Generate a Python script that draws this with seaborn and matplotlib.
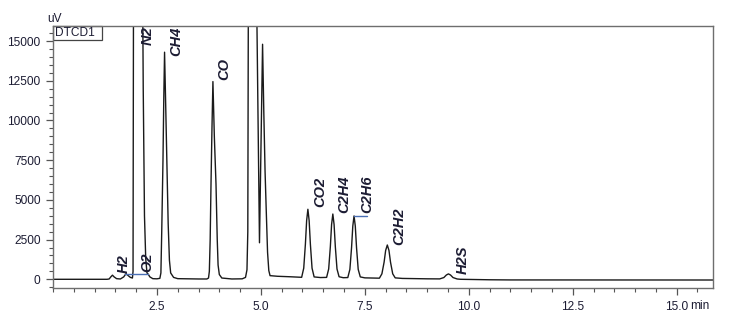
import matplotlib
matplotlib.use("Agg")
import matplotlib.pyplot as plt
import seaborn as sns
import pandas as pd
from matplotlib.ticker import MultipleLocator
from matplotlib.patches import Rectangle

# ---- data ----
time_min = [0.00, 1.30, 1.35, 1.39, 1.43, 1.47, 1.53, 1.62, 1.70, 1.755, 1.80, 1.86, 1.91,
            1.925, 1.935, 1.95, 2.05, 2.14, 2.17, 2.20, 2.23, 2.26, 2.29, 2.33, 2.40, 2.50,
            2.57, 2.595, 2.615, 2.645, 2.665, 2.683, 2.71, 2.74, 2.77, 2.80, 2.83, 2.90, 3.00,
            3.50, 3.70, 3.74, 3.76, 3.78, 3.80, 3.823, 3.846, 3.88, 3.92, 3.95, 3.97, 4.00,
            4.06, 4.30, 4.55, 4.63, 4.665, 4.685, 4.70, 4.75, 4.85, 4.89, 4.966, 5.04, 5.07,
            5.10, 5.13, 5.16, 5.19, 5.22, 5.40, 5.70, 5.98, 6.03, 6.07, 6.10, 6.13, 6.16,
            6.19, 6.23, 6.28, 6.43, 6.58, 6.63, 6.67, 6.70, 6.73, 6.76, 6.79, 6.83, 6.88,
            6.98, 7.09, 7.14, 7.18, 7.21, 7.24, 7.27, 7.30, 7.34, 7.39, 7.50, 7.85, 7.91,
            7.963, 8.00, 8.04, 8.08, 8.117, 8.17, 8.23, 8.40, 9.00, 9.30, 9.40, 9.46, 9.51,
            9.56, 9.62, 9.72, 9.80, 10.50, 11.00, 15.88]
signal_uv = [0, 0, 20, 150, 260, 150, 40, 20, 150, 350, 250, 120, 80,
             500, 16500, 50000, 100000, 25000, 12000, 4000, 1300, 400, 320, 150, 40, 30,
             60, 400, 3000, 7500, 11500, 14300, 11000, 7200, 3500, 1200, 400, 120, 40,
             20, 20, 80, 500, 2500, 6000, 9500, 12450, 9000, 6000, 2500, 900, 300,
             80, 20, 30, 120, 600, 3000, 20000, 70000, 50000, 19400, 2300, 14800, 10500,
             6800, 4200, 1700, 550, 230, 190, 160, 125, 700, 2210, 3700, 4410, 3700,
             2210, 700, 150, 110, 120, 650, 2050, 3450, 4110, 3450, 2050, 650, 160,
             100, 110, 625, 1990, 3350, 3990, 3350, 1990, 625, 150, 90, 70, 345,
             1080, 1815, 2160, 1815, 1080, 345, 90, 55, 30, 25, 110, 270, 340,
             270, 110, 20, 0, -30, -40, -45]

peak_names = ["H2", "O2", "N2", "CH4", "CO", "CO2", "C2H4", "C2H6", "C2H2", "H2S"]
label_time = [1.69, 2.26, 2.29, 2.96, 4.12, 6.42, 7.00, 7.56, 8.33, 9.85]
label_level = [400, 460, 15930, 15900, 12550, 4535, 4195, 4195, 2160, 330]
label_anchor = ["bottom", "bottom", "top", "top", "bottom", "bottom", "bottom", "bottom", "bottom", "bottom"]

mark_start = [1.74, 7.24]
mark_end = [2.29, 7.56]
mark_level = [334, 3990]

x_ticks = [2.5, 5.0, 7.5, 10.0, 12.5, 15.0]
y_ticks = [0, 2500, 5000, 7500, 10000, 12500, 15000]

# ---- plot ----
sns.set_style("white")
plt.rcParams["font.family"] = ["Liberation Sans", "DejaVu Sans"]

fig = plt.figure(figsize=(7.37, 3.21), dpi=100)
ax = fig.add_axes([53 / 737, 1 - 288.3 / 321, 660.3 / 737, 262.3 / 321])

df = pd.DataFrame({"t": time_min, "s": signal_uv})
sns.lineplot(data=df, x="t", y="s", ax=ax, sort=False, estimator=None,
             color="#1a1a1a", lw=1.0)

for a, b, lv in zip(mark_start, mark_end, mark_level):
    ax.plot([a, b], [lv, lv], color="#4a6fb5", lw=1.0)

text_col = "#1c1c33"
for name, t, lv, va in zip(peak_names, label_time, label_level, label_anchor):
    ax.text(t, lv, name, rotation=90, ha="center", va=va, fontsize=10.5,
            fontweight="bold", fontstyle="italic", color=text_col)

ax.set_xlim(0, 15.88)
ax.set_ylim(-567, 15950)
ax.set_xticks(x_ticks)
ax.set_xticklabels([f"{v:.1f}" for v in x_ticks])
ax.set_yticks(y_ticks)
ax.set_yticklabels([str(v) for v in y_ticks])
ax.xaxis.set_minor_locator(MultipleLocator(0.5))
ax.yaxis.set_minor_locator(MultipleLocator(500))
ax.tick_params(which="major", direction="out", length=5, width=0.9, color="#555555",
               labelsize=8.6, labelcolor=text_col, pad=4, bottom=True, left=True)
ax.tick_params(which="minor", direction="out", length=3, width=0.8, color="#555555",
               bottom=True, left=True)
ax.set_xlabel("")
ax.set_ylabel("")
for sp in ax.spines.values():
    sp.set_color("#6e6e6e")
    sp.set_linewidth(1.0)

# DTCD1 box
ax.add_patch(Rectangle((0, 1 - 14 / 262.3), 49.3 / 660.3, 14 / 262.3, transform=ax.transAxes,
                       fill=False, edgecolor="#444444", lw=0.9, clip_on=False))
ax.text(1.5 / 660.3, 1 - 7 / 262.3, "DTCD1", transform=ax.transAxes, ha="left", va="center",
        fontsize=8.6, color=text_col)

fig.text(54 / 737, 1 - 19.5 / 321, "uV", ha="center", va="center", fontsize=8.6, color=text_col)
fig.text(699.5 / 737, 1 - 306 / 321, "min", ha="center", va="center", fontsize=8.6, color=text_col)

fig.savefig("out.png", dpi=100)
